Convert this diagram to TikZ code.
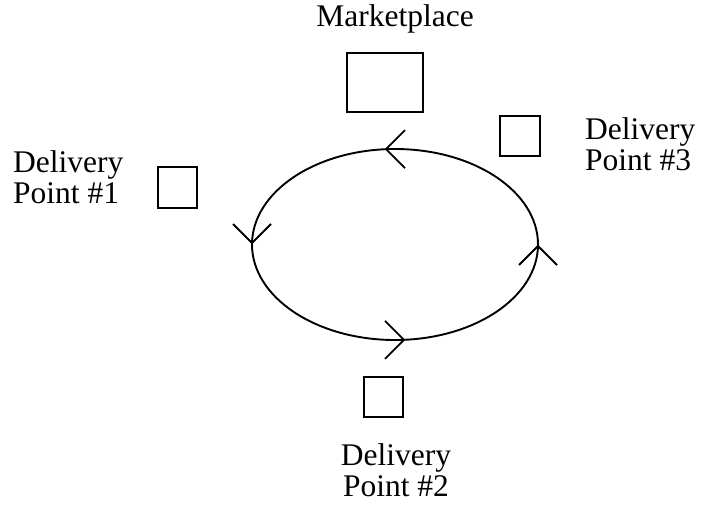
\documentclass[tikz,border=0pt]{standalone}
\usepackage{fontspec}
\setmainfont{Liberation Serif}
\usetikzlibrary{calc}
\begin{document}
\begin{tikzpicture}[x=1pt,y=-1pt,
  site/.style={draw, line width=1.8pt, inner sep=0pt, minimum width=#1},
  lbl/.style={inner sep=0pt, font=\fontsize{31.5}{30.5}\selectfont},
  route/.style={line width=1.9pt},
  tick/.style={line width=1.8pt}]
\useasboundingbox (0,0) rectangle (701,506);
% route
\draw[route] (395,244.5) ellipse [x radius=143pt, y radius=95.5pt];
% boxes
\node[site=76pt, minimum height=59pt] (mkt) at (385,82.5) {};
\node[site=39pt, minimum height=41pt] (dp1) at (177.5,187.5) {};
\node[site=40pt, minimum height=40pt] (dp3) at (520,136) {};
\node[site=39pt, minimum height=40pt] (dp2) at (383.5,397) {};
% labels (base anchor = baseline of the last line)
\node[lbl, anchor=base] (mktlbl) at (395,27) {Marketplace};
\node[lbl, anchor=base west, align=left] (dp1lbl) at (13,203) {Delivery\\Point \#1};
\node[lbl, anchor=base west, align=left] (dp3lbl) at (585,170) {Delivery\\Point \#3};
\node[lbl, anchor=base, align=center] (dp2lbl) at (396,496) {Delivery\\Point \#2};
% direction ticks on the route
\coordinate (ttop) at (386,149.2);
\coordinate (tleft) at (252,243);
\coordinate (tbot) at (404,339.8);
\coordinate (tright) at (538,246);
\draw[tick] ($(ttop)+(19,-19)$) -- (ttop) -- ($(ttop)+(19,19)$);
\draw[tick] ($(tleft)+(-19,-19)$) -- (tleft) -- ($(tleft)+(19,-19)$);
\draw[tick] ($(tbot)+(-19,-19)$) -- (tbot) -- ($(tbot)+(-19,19)$);
\draw[tick] ($(tright)+(-19,19)$) -- (tright) -- ($(tright)+(19,19)$);
\end{tikzpicture}
\end{document}
